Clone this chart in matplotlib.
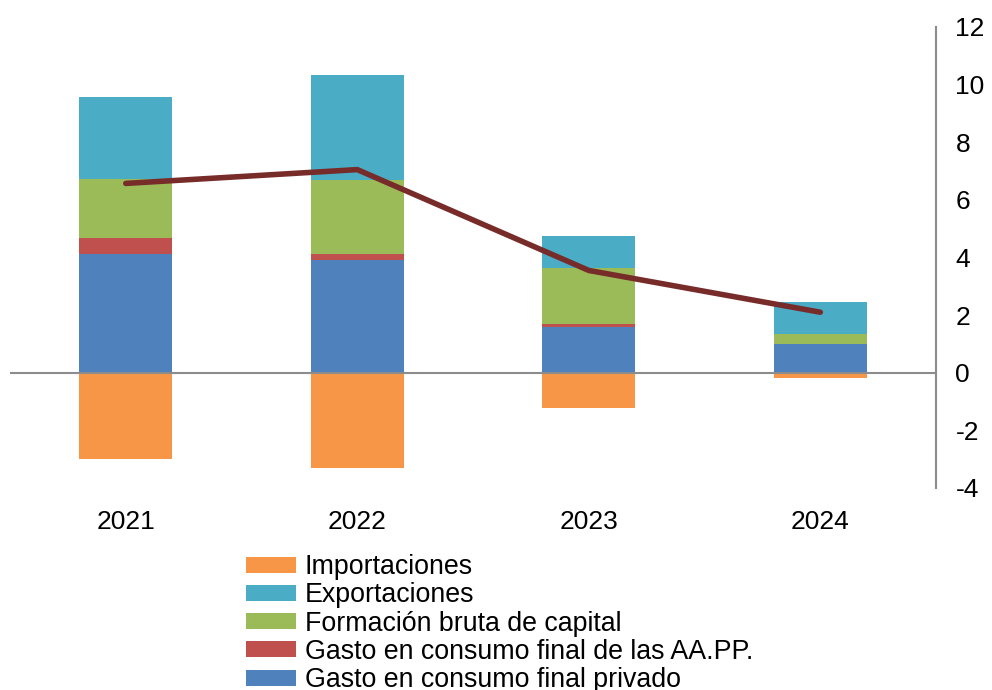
import numpy as np
import matplotlib.pyplot as plt

# Data (contributions to growth, pp)
years = ['2021', '2022', '2023', '2024']
privado = [4.13, 3.92, 1.58, 0.98]
aapp = [0.56, 0.20, 0.11, 0.00]
fbc = [2.05, 2.56, 1.96, 0.37]
exportaciones = [2.83, 3.64, 1.11, 1.10]
importaciones = [-2.99, -3.30, -1.21, -0.17]
pib = [6.57, 7.05, 3.55, 2.10]

plt.rcParams['font.family'] = ['Liberation Sans', 'DejaVu Sans']
plt.rcParams['axes.unicode_minus'] = False

fig = plt.figure(figsize=(9.92, 6.9), dpi=100)
ax = fig.add_axes([0.0101, 0.2928, 0.9335, 0.6681])

x = np.arange(len(years))
w = 0.4

bottom = np.zeros(len(years))
bars = {}
for name, vals, col in [
    ('Gasto en consumo final privado', privado, '#4F81BD'),
    ('Gasto en consumo final de las AA.PP.', aapp, '#C0504D'),
    ('Formación bruta de capital', fbc, '#9BBB59'),
    ('Exportaciones', exportaciones, '#4BACC6'),
]:
    bars[name] = ax.bar(x, vals, w, bottom=bottom, color=col, zorder=2)
    bottom += np.array(vals)
bars['Importaciones'] = ax.bar(x, importaciones, w, color='#F79646', zorder=2)

ax.plot(x, pib, color='#772C2A', lw=4.0, solid_capstyle='round', zorder=4)

ax.axhline(0, color='#8C8C8C', lw=1.5, zorder=3)

ax.set_xlim(-0.5, 3.5)
ax.set_ylim(-4, 12)
ax.set_yticks(range(-4, 13, 2))
ax.set_xticks(x)
ax.set_xticklabels(years)
ax.yaxis.tick_right()
ax.tick_params(axis='y', length=0, pad=14, labelsize=19)
ax.tick_params(axis='x', length=0, pad=16, labelsize=19)

for s in ['top', 'left', 'bottom']:
    ax.spines[s].set_visible(False)
ax.spines['right'].set_color('#8C8C8C')
ax.spines['right'].set_linewidth(1.5)

order = ['Importaciones', 'Exportaciones', 'Formación bruta de capital',
         'Gasto en consumo final de las AA.PP.', 'Gasto en consumo final privado']
fig.legend([bars[k] for k in order], order, loc='upper left',
           bbox_to_anchor=(0.248, 0.197), frameon=False, fontsize=19.3,
           handlelength=1.85, handleheight=0.55, handletextpad=0.35,
           labelspacing=0.085, borderpad=0, borderaxespad=0)

fig.savefig('out.png', dpi=100)
